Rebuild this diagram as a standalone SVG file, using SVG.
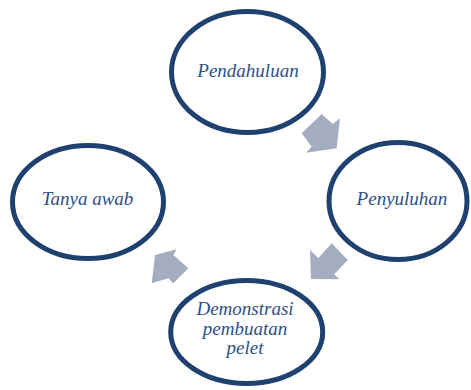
<svg xmlns="http://www.w3.org/2000/svg" width="471" height="390" viewBox="0 0 471 390">
<style>
.node{fill:#ffffff;stroke:#1f416f;stroke-width:5}
.lbl{font-family:"Liberation Serif","DejaVu Serif",serif;font-style:italic;font-size:19px;fill:#2f4f85;text-anchor:middle}
.arr{fill:#a4adbf}
</style>
<rect width="471" height="390" fill="#ffffff"/>
<g id="connectors">
<polygon class="arr" points="301.7,133.3 321.7,114 332.7,124 340,118.3 336.7,148.3 306,152.7 311.7,146.7"/>
<polygon class="arr" points="331.7,243.3 347.7,260 334.3,274.3 339.3,279.3 311,279 310,250 318.3,258"/>
<polygon class="arr" points="188.3,268.3 173.3,283.3 168.3,278.3 151.7,283.3 155,255 176.7,249.3 173.3,255"/>
</g>
<g id="pendahuluan">
<ellipse class="node" cx="247.5" cy="72" rx="76" ry="60.5"/>
<text class="lbl" x="248" y="77">Pendahuluan</text>
</g>
<g id="penyuluhan">
<ellipse class="node" cx="398" cy="201" rx="69" ry="58.5"/>
<text class="lbl" x="402" y="205">Penyuluhan</text>
</g>
<g id="demonstrasi">
<ellipse class="node" cx="246.7" cy="332" rx="76" ry="51.5"/>
<text class="lbl" x="245" y="315">Demonstrasi</text>
<text class="lbl" x="245" y="334.5">pembuatan</text>
<text class="lbl" x="245" y="353.5">pelet</text>
</g>
<g id="tanya-awab">
<ellipse class="node" cx="88" cy="202" rx="75.5" ry="56.5"/>
<text class="lbl" x="87.5" y="205">Tanya awab</text>
</g>
</svg>
